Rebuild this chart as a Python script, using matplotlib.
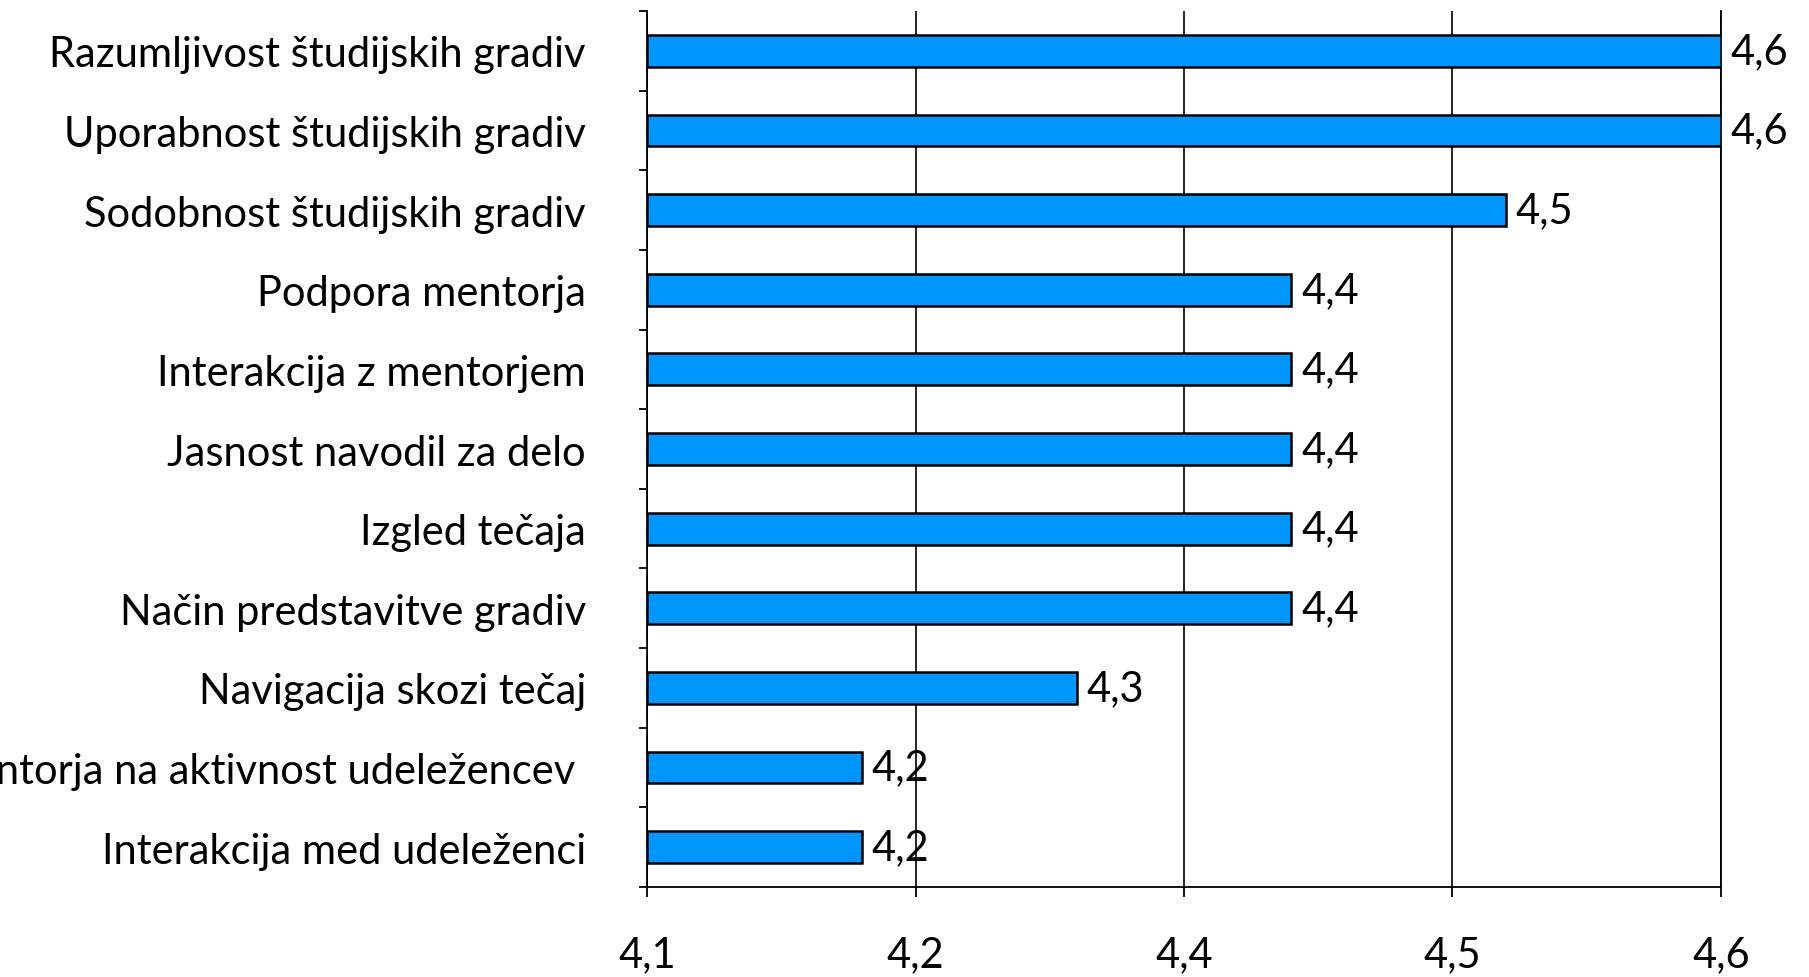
import numpy as np
import matplotlib
matplotlib.use('Agg')
import matplotlib.pyplot as plt

# Data (top to bottom as shown)
categories = [
    'Razumljivost študijskih gradiv',
    'Uporabnost študijskih gradiv',
    'Sodobnost študijskih gradiv',
    'Podpora mentorja',
    'Interakcija z mentorjem',
    'Jasnost navodil za delo',
    'Izgled tečaja',
    'Način predstavitve gradiv',
    'Navigacija skozi tečaj',
    'Odziv mentorja na aktivnost udeležencev ',
    'Interakcija med udeleženci',
]
scores = [4.6, 4.6, 4.5, 4.4, 4.4, 4.4, 4.4, 4.4, 4.3, 4.2, 4.2]

# Excel-style axis: 4.1 to 4.6 in steps of 0.125, labels rounded to one decimal
x_ticks = [4.1, 4.225, 4.35, 4.475, 4.6]
x_tick_labels = ['4,1', '4,2', '4,4', '4,5', '4,6']

plt.rcParams['font.family'] = ['Lato', 'DejaVu Sans']
FS = 30

fig = plt.figure(figsize=(18.09, 9.78), dpi=100)
ax = fig.add_axes([0.3577, 0.092, 0.5936, 0.8957])

y = np.arange(len(categories))
bars = ax.barh(y, np.array(scores) - 4.1, left=4.1, height=0.40,
               color='#0096FF', edgecolor='black', linewidth=1.8, zorder=3)

ax.set_xlim(4.1, 4.6)
ax.set_ylim(len(categories) - 0.5, -0.5)

# Category labels, tick marks only at the band boundaries
ax.set_yticks(y)
ax.set_yticklabels(categories, fontsize=FS)
ax.tick_params(axis='y', which='major', length=0, pad=44)
ax.set_yticks(np.arange(len(categories) + 1) - 0.5, minor=True)
ax.tick_params(axis='y', which='minor', length=6, width=1.3, direction='out')

ax.set_xticks(x_ticks)
ax.set_xticklabels(x_tick_labels, fontsize=FS)
ax.tick_params(axis='x', length=7, width=1.3, direction='out', pad=28)

ax.grid(axis='x', color='black', linewidth=1.2)
ax.set_axisbelow(True)

ax.spines['top'].set_visible(False)
for side in ['left', 'bottom', 'right']:
    ax.spines[side].set_linewidth(1.3)

ax.bar_label(bars, labels=[f'{v:.1f}'.replace('.', ',') for v in scores],
             padding=7, fontsize=FS)

plt.savefig('out.png', dpi=100)
